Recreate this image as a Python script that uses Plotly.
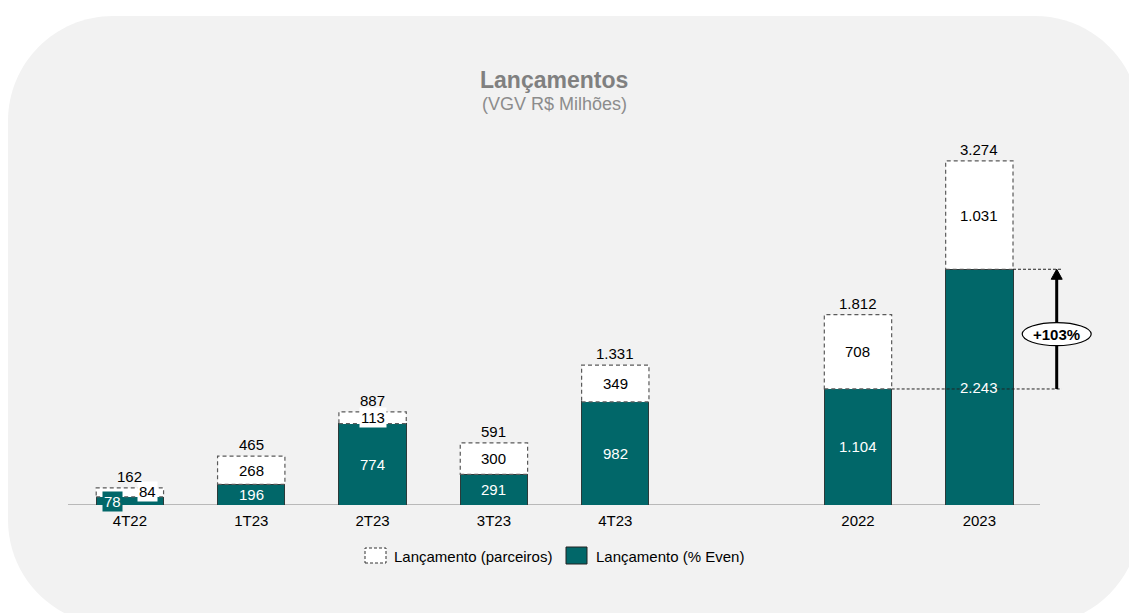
import plotly.graph_objects as go

# ---------------- data ----------------
categories = ["4T22", "1T23", "2T23", "3T23", "4T23", "2022", "2023"]
x_pos = [0, 1, 2, 3, 4, 6, 7]
even_vals = [78, 196, 774, 291, 982, 1104, 2243]        # Lançamento (% Even)
partner_vals = [84, 268, 113, 300, 349, 708, 1031]      # Lançamento (parceiros)
totals = [162, 465, 887, 591, 1331, 1812, 3274]
growth_label = "+103%"
title_text = "Lançamentos"
subtitle_text = "(VGV R$ Milhões)"
legend_names = ["Lançamento (parceiros)", "Lançamento (% Even)"]

# ---------------- styling ----------------
W, H = 1129, 613
FONT = "Arial, Liberation Sans, sans-serif"
FS = 15
TEAL = "#016769"
BAR_W = 0.555
XR = [-0.51, 8.0]
PX_PER_X = 121.35
Y_TOP = 3615.6
PX_PER_Y = 380 / Y_TOP


def px(x):
    return x / W


def py(y):
    return 1 - y / H


def fmt(v):
    return f"{v:,}".replace(",", ".")


def rounded_rect_path(x0, y0, x1, y1, r):
    k = 0.5523 * r
    X = px
    Y = py
    p = f"M {X(x0 + r)} {Y(y0)} L {X(x1 - r)} {Y(y0)} "
    p += f"C {X(x1 - r + k)} {Y(y0)} {X(x1)} {Y(y0 + r - k)} {X(x1)} {Y(y0 + r)} "
    p += f"L {X(x1)} {Y(y1 - r)} "
    p += f"C {X(x1)} {Y(y1 - r + k)} {X(x1 - r + k)} {Y(y1)} {X(x1 - r)} {Y(y1)} "
    p += f"L {X(x0 + r)} {Y(y1)} "
    p += f"C {X(x0 + r - k)} {Y(y1)} {X(x0)} {Y(y1 - r + k)} {X(x0)} {Y(y1 - r)} "
    p += f"L {X(x0)} {Y(y0 + r)} "
    p += f"C {X(x0)} {Y(y0 + r - k)} {X(x0 + r - k)} {Y(y0)} {X(x0 + r)} {Y(y0)} Z"
    return p


fig = go.Figure()
fig.add_bar(x=x_pos, y=even_vals, width=BAR_W, name=legend_names[1],
            marker=dict(color=TEAL, line=dict(color="#2b3a3a", width=1)),
            hoverinfo="skip")
fig.add_bar(x=x_pos, y=partner_vals, width=BAR_W, name=legend_names[0],
            marker=dict(color="white", line=dict(width=0)),
            hoverinfo="skip")

shapes = []
annotations = []


def ann(**kw):
    kw.setdefault("xanchor", "center")
    kw.setdefault("yanchor", "middle")
    kw.setdefault("showarrow", False)
    annotations.append(kw)


# background rounded panel
shapes.append(dict(type="path", xref="paper", yref="paper",
                   path=rounded_rect_path(8, 16, 1140, 625, 105),
                   fillcolor="#F2F2F2", line=dict(width=0), layer="below"))

# baseline
shapes.append(dict(type="line", xref="x", yref="y", x0=XR[0], x1=7.5, y0=0, y1=0,
                   line=dict(color="#a6a6a6", width=1.5), layer="below"))

# dashed outlines for partner segments
for xp, ev, tot in zip(x_pos, even_vals, totals):
    shapes.append(dict(type="rect", xref="x", yref="y",
                       x0=xp - BAR_W / 2, x1=xp + BAR_W / 2, y0=ev, y1=tot,
                       line=dict(color="#5a5a5a", width=1.2, dash="4px,3px"),
                       fillcolor="rgba(0,0,0,0)", layer="above"))

# label offsets (layout tweaks)
even_off = {0: (-0.14, 38 - 78 / 2)}
partner_off = {0: (0.144, 124 - (78 + 84 / 2))}
even_bg = {0: TEAL}
partner_bg = {0: "white", 2: "white"}

for i, (xp, ev, pv, tot) in enumerate(zip(x_pos, even_vals, partner_vals, totals)):
    dx, dy = even_off.get(i, (0, 0))
    ann(x=xp + dx, y=ev / 2 + dy, xref="x", yref="y", text=fmt(ev),
        font=dict(family=FONT, size=FS, color="white"),
        bgcolor=even_bg.get(i, "rgba(0,0,0,0)"), borderpad=1)
    dx, dy = partner_off.get(i, (0, 0))
    ann(x=xp + dx, y=ev + pv / 2 + dy, xref="x", yref="y", text=fmt(pv),
        font=dict(family=FONT, size=FS, color="black"),
        bgcolor=partner_bg.get(i, "rgba(0,0,0,0)"), borderpad=1)
    ann(x=xp, y=tot, xref="x", yref="y", yanchor="bottom", yshift=1, text=fmt(tot),
        font=dict(family=FONT, size=FS, color="black"))

# growth indicator
x_arrow = XR[0] + (1056.7 - 68) / PX_PER_X
x_end = XR[0] + (1061.7 - 68) / PX_PER_X
shapes.append(dict(type="line", xref="x", yref="y", x0=6 + BAR_W / 2, x1=x_end,
                   y0=even_vals[5], y1=even_vals[5],
                   line=dict(color="#222222", width=1, dash="3px,2px"), layer="above"))
shapes.append(dict(type="line", xref="x", yref="y", x0=7 + BAR_W / 2, x1=x_end,
                   y0=even_vals[6], y1=even_vals[6],
                   line=dict(color="#222222", width=1, dash="3px,2px"), layer="above"))
head_h = 10 / PX_PER_Y
head_w = 5.5 / PX_PER_X
shapes.append(dict(type="line", xref="x", yref="y", x0=x_arrow, x1=x_arrow,
                   y0=even_vals[5], y1=even_vals[6] - head_h * 0.8,
                   line=dict(color="black", width=3), layer="above"))
shapes.append(dict(type="path", xref="x", yref="y", layer="above",
                   path=(f"M {x_arrow - head_w} {even_vals[6] - head_h} "
                         f"L {x_arrow} {even_vals[6]} L {x_arrow + head_w} {even_vals[6] - head_h} Z"),
                   fillcolor="black", line=dict(color="black", width=1)))
mid = (even_vals[5] + even_vals[6]) / 2
shapes.append(dict(type="circle", xref="x", yref="y", xsizemode="pixel", ysizemode="pixel",
                   xanchor=x_arrow, yanchor=mid, x0=-34.5, x1=34.5, y0=-16.5, y1=6.5,
                   fillcolor="white", line=dict(color="black", width=1.2), layer="above"))
ann(x=x_arrow, y=mid, xref="x", yref="y", yshift=-5, text=f"<b>{growth_label}</b>",
    font=dict(family=FONT, size=15, color="black"))

# title
ann(x=px(554), y=py(80), xref="paper", yref="paper", text=f"<b>{title_text}</b>",
    font=dict(family=FONT, size=23, color="#808080"))
ann(x=px(554), y=py(104), xref="paper", yref="paper", text=subtitle_text,
    font=dict(family=FONT, size=18, color="#8c8c8c"))

# custom legend
shapes.append(dict(type="rect", xref="paper", yref="paper",
                   x0=px(365), x1=px(386), y0=py(563), y1=py(548),
                   fillcolor="white", line=dict(color="#333333", width=1, dash="3px,2px")))
shapes.append(dict(type="rect", xref="paper", yref="paper",
                   x0=px(566), x1=px(587), y0=py(564), y1=py(547),
                   fillcolor=TEAL, line=dict(color="#222222", width=1)))
ann(x=px(392), y=py(556), xref="paper", yref="paper", xanchor="left",
    text=legend_names[0], font=dict(family=FONT, size=FS, color="black"))
ann(x=px(594), y=py(556), xref="paper", yref="paper", xanchor="left",
    text=legend_names[1], font=dict(family=FONT, size=FS, color="black"))

fig.update_layout(
    width=W, height=H,
    margin=dict(l=0, r=0, t=0, b=0),
    paper_bgcolor="white", plot_bgcolor="rgba(0,0,0,0)",
    barmode="stack", showlegend=False,
    font=dict(family=FONT, size=FS, color="black"),
    shapes=shapes, annotations=annotations,
    xaxis=dict(domain=[px(68), px(68 + (XR[1] - XR[0]) * PX_PER_X)], range=XR,
               tickvals=x_pos, ticktext=categories, showgrid=False, zeroline=False,
               showline=False, ticks="", ticklabelstandoff=5,
               tickfont=dict(family=FONT, size=FS, color="black"),
               fixedrange=True),
    yaxis=dict(domain=[py(505), py(125)], range=[0, Y_TOP], visible=False,
               showgrid=False, zeroline=False, fixedrange=True),
)

fig.write_html("out.html", config={"displayModeBar": False},
               post_script="document.body.style.margin='0px';document.body.style.overflow='hidden';")
